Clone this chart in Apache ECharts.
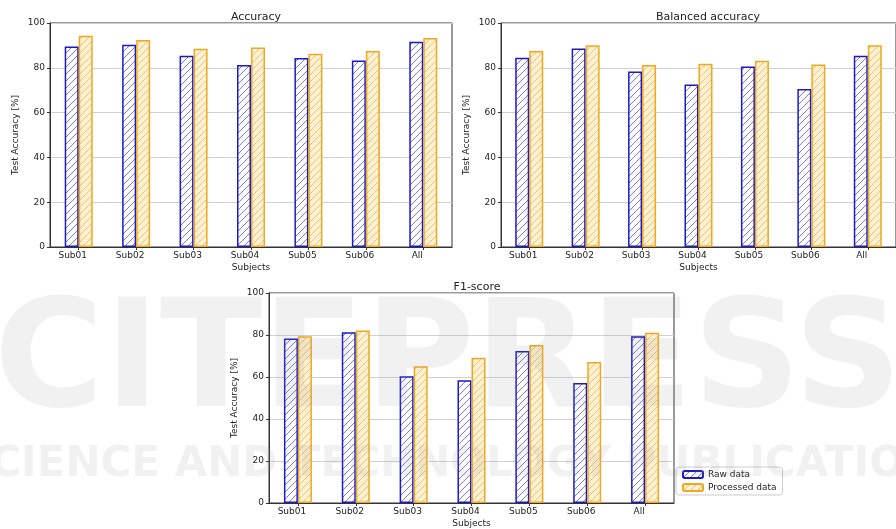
<!DOCTYPE html>
<html>
<head>
<meta charset="utf-8">
<script src="https://cdn.jsdelivr.net/npm/echarts@6/dist/echarts.min.js"></script>
<style>
  html, body { margin: 0; padding: 0; background: #fff; }
  #chart { width: 896px; height: 529px; }
</style>
</head>
<body>
<div id="chart"></div>
<script>
const subjects = ['Sub01', 'Sub02', 'Sub03', 'Sub04', 'Sub05', 'Sub06', 'All'];
const yTicks = [0, 20, 40, 60, 80, 100];

const accuracyRaw = [89.5, 90.3, 85.4, 81.2, 84.4, 83.3, 91.6];
const accuracyProcessed = [94.3, 92.4, 88.5, 89.1, 86.3, 87.5, 93.3];
const balancedRaw = [84.5, 88.6, 78.3, 72.5, 80.6, 70.5, 85.4];
const balancedProcessed = [87.5, 90.1, 81.2, 81.8, 83.1, 81.5, 90.1];
const f1Raw = [78.3, 81.3, 60.4, 58.4, 72.4, 57.1, 79.4];
const f1Processed = [79.4, 82.1, 65.1, 69.2, 75.2, 67.1, 81.1];

const FONT = 'DejaVu Sans';
const BLUE = '#1a1ac8';
const ORANGE = '#f0a820';

// diagonal hatch tile (///)
function hatch(bg, line) {
  const s = 7;
  const c = document.createElement('canvas');
  c.width = s; c.height = s;
  const ctx = c.getContext('2d');
  ctx.fillStyle = bg;
  ctx.fillRect(0, 0, s, s);
  ctx.strokeStyle = line;
  ctx.lineWidth = 0.9;
  ctx.beginPath();
  ctx.moveTo(0, s); ctx.lineTo(s, 0);
  ctx.moveTo(-s / 2, s / 2); ctx.lineTo(s / 2, -s / 2);
  ctx.moveTo(s / 2, s + s / 2); ctx.lineTo(s + s / 2, s / 2);
  ctx.stroke();
  return { image: c, repeat: 'repeat' };
}

const rawFill = hatch('#ffffff', '#6a6ae6');
const procFill = hatch('#fcf1d4', '#f2bc55');

const grids = [
  { left: 50, top: 23, width: 402, height: 224 },
  { left: 501, top: 23, width: 404, height: 224 },
  { left: 269, top: 293, width: 405, height: 214 },
];

const titles = [
  { text: 'Accuracy', left: 251, top: 7 },
  { text: 'Balanced accuracy', left: 703, top: 7 },
  { text: 'F1-score', left: 472, top: 277 },
];

const panels = [
  [accuracyRaw, accuracyProcessed],
  [balancedRaw, balancedProcessed],
  [f1Raw, f1Processed],
];

const myChart = echarts.init(document.getElementById('chart'));

const option = {
  backgroundColor: '#ffffff',
  animation: false,
  title: titles.map(t => ({
    text: t.text,
    left: t.left,
    top: t.top,
    textAlign: 'center',
    textStyle: { fontFamily: FONT, fontSize: 11, fontWeight: 'normal', color: '#222' },
  })),
  legend: {
    data: ['Raw data', 'Processed data'],
    orient: 'vertical',
    left: 676,
    top: 467,
    itemWidth: 20,
    itemHeight: 7,
    itemGap: 4,
    padding: [3, 6, 3, 6],
    borderColor: '#cccccc',
    borderWidth: 1,
    borderRadius: 3,
    backgroundColor: 'rgba(255,255,255,0.8)',
    textStyle: { fontFamily: FONT, fontSize: 9, color: '#222' },
  },
  grid: grids.map(g => Object.assign({
    show: true,
    borderColor: '#333',
    borderWidth: 1,
    backgroundColor: 'transparent',
  }, g)),
  xAxis: grids.map((g, i) => ({
    type: 'category',
    gridIndex: i,
    data: subjects,
    name: 'Subjects',
    nameLocation: 'middle',
    nameGap: 16,
    nameTextStyle: { fontFamily: FONT, fontSize: 9, color: '#222' },
    axisLine: { lineStyle: { color: '#333' } },
    axisTick: { show: true, alignWithLabel: true, length: 3, lineStyle: { color: '#333' } },
    axisLabel: {
      fontFamily: FONT, fontSize: 9, color: '#222', margin: 4,
      padding: [0, 12, 0, 0],
    },
  })),
  yAxis: grids.map((g, i) => ({
    type: 'value',
    gridIndex: i,
    min: 0,
    max: 100,
    interval: 20,
    name: 'Test Accuracy [%]',
    nameLocation: 'middle',
    nameGap: 30,
    nameTextStyle: { fontFamily: FONT, fontSize: 9, color: '#222' },
    axisLine: { show: true, lineStyle: { color: '#333' } },
    axisTick: { show: true, length: 3, lineStyle: { color: '#333' } },
    axisLabel: { fontFamily: FONT, fontSize: 9, color: '#222', margin: 5,
      formatter: v => (yTicks.includes(v) ? String(v) : '') },
    splitLine: { lineStyle: { color: '#d0d0d0', width: 1 } },
  })),
  series: [],
  graphic: [
    {
      type: 'text', left: 'center', top: 292, z: 100, silent: true,
      style: { text: 'CITEPRESS', fontFamily: FONT, fontWeight: 'bold', fontSize: 150,
        fill: 'rgba(150,150,150,0.13)' },
    },
    {
      type: 'text', left: -40, top: 444, z: 100, silent: true,
      style: { text: 'SCIENCE AND TECHNOLOGY PUBLICATIONS', fontFamily: FONT, fontWeight: 'bold',
        fontSize: 42, fill: 'rgba(150,150,150,0.13)' },
    },
  ],
};

panels.forEach((p, i) => {
  option.series.push({
    name: 'Raw data',
    type: 'bar',
    xAxisIndex: i,
    yAxisIndex: i,
    data: p[0],
    barWidth: 14,
    barGap: '0%',
    itemStyle: { color: rawFill, borderColor: BLUE, borderWidth: 1.5 },
  });
  option.series.push({
    name: 'Processed data',
    type: 'bar',
    xAxisIndex: i,
    yAxisIndex: i,
    data: p[1],
    barWidth: 14,
    barGap: '0%',
    itemStyle: { color: procFill, borderColor: ORANGE, borderWidth: 1.5 },
  });
});

myChart.setOption(option);
</script>
</body>
</html>
